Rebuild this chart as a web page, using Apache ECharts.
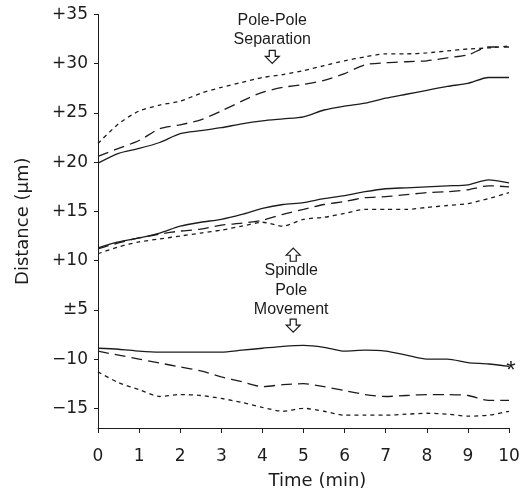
<!DOCTYPE html>
<html>
<head>
<meta charset="utf-8">
<script src="https://cdn.jsdelivr.net/npm/echarts@6/dist/echarts.min.js"></script>
<style>
html,body{margin:0;padding:0;background:#fff;}
#chart{width:525px;height:492px;}
</style>
</head>
<body>
<div id="chart"></div>
<script>
// Time (min)
const times = [0,0.5,1,1.5,2,2.5,3,3.5,4,4.5,5,5.5,6,6.5,7,7.5,8,8.5,9,9.5,10];

// Pole-pole separation (µm)
const sepSolid = [19.9,20.9,21.4,22.0,22.9,23.2,23.5,23.9,24.2,24.4,24.6,25.3,25.7,26.0,26.5,26.9,27.3,27.7,28.0,28.6,28.6];
const sepLong  = [20.6,21.4,22.2,23.4,23.8,24.3,25.2,26.2,27.1,27.6,27.9,28.3,29.0,29.9,30.1,30.2,30.3,30.6,30.9,31.7,31.7];
const sepShort = [21.9,23.9,25.2,25.8,26.2,27.0,27.6,28.1,28.6,28.9,29.3,29.8,30.3,30.7,31.0,31.0,31.1,31.3,31.5,31.6,31.8];

// Spindle pole movement, upper pole (µm)
const upSolid = [11.3,11.9,12.3,12.8,13.5,13.9,14.2,14.7,15.3,15.7,15.9,16.3,16.6,17.0,17.3,17.4,17.5,17.6,17.7,18.2,17.9];
const upLong  = [11.2,11.8,12.3,12.7,13.0,13.2,13.6,13.8,14.1,14.7,15.2,15.7,16.0,16.4,16.5,16.7,16.9,17.0,17.2,17.6,17.5];
const upShort = [10.7,11.4,11.9,12.2,12.5,12.8,13.1,13.5,13.9,13.5,14.2,14.4,14.8,15.2,15.2,15.2,15.4,15.6,15.8,16.3,16.9];

// Spindle pole movement, lower pole (µm)
const lowSolid = [-8.9,-9.0,-9.2,-9.3,-9.3,-9.3,-9.3,-9.1,-8.9,-8.7,-8.6,-8.8,-9.2,-9.1,-9.2,-9.6,-10.0,-10.0,-10.35,-10.5,-10.75];
const lowLong  = [-9.2,-9.6,-10.0,-10.4,-10.8,-11.2,-11.8,-12.3,-12.8,-12.6,-12.5,-12.8,-13.2,-13.6,-13.8,-13.7,-13.6,-13.6,-13.7,-14.2,-14.2];
const lowShort = [-11.3,-12.4,-13.1,-13.8,-13.6,-13.7,-14.0,-14.4,-14.9,-15.3,-15.0,-15.3,-15.7,-15.7,-15.7,-15.6,-15.5,-15.6,-15.8,-15.7,-15.3];

// Broken y axis: ticks and their labels
const yTickValues = [-5,0,5,10,15,20,25,30,35];
const yTickLabels = ['\u221215','\u221210','\u00b15','+10','+15','+20','+25','+30','+35'];
const xTickLabels = ['0','1','2','3','4','5','6','7','8','9','10'];

// axis break: negative distances are shifted up by 10 units
const BREAK_SHIFT = 10;
function toAxis(v){ return v < 0 ? v + BREAK_SHIFT : v; }
function pts(vals){ return times.map((t,i)=>[t, toAxis(vals[i])]); }

const INK = '#1c1c1c';
const SHORT = [4,4];
const LONG = [11,6];
function line(vals, type, extra){
  return Object.assign({
    type:'line', data: pts(vals), symbol:'none', smooth:0.25, silent:true, clip:false,
    lineStyle:{color:INK, width:1.3, type:type}
  }, extra||{});
}

const arrowDown = 'path://M4 0 L10 0 L10 6 L14 6 L7 13 L0 6 L4 6 Z';
const arrowUp = 'path://M4 13 L10 13 L10 7 L14 7 L7 0 L0 7 L4 7 Z';

const annFont = {fontFamily:'Liberation Sans, Arial, sans-serif', fontSize:16, color:INK, lineHeight:19.5};

const chart = echarts.init(document.getElementById('chart'), null, {renderer:'canvas'});
chart.setOption({
  animation:false,
  backgroundColor:'#fff',
  grid:{left:98, right:16, top:14.5, bottom:64, containLabel:false, outerBoundsMode:'none'},
  xAxis:{
    type:'value', min:0, max:10, interval:1,
    name:'Time (min)', nameLocation:'middle', nameGap:44,
    nameTextStyle:{fontFamily:'DejaVu Sans', fontSize:18, color:INK, padding:[0,0,0,28]},
    axisLine:{onZero:false, lineStyle:{color:INK, width:1}},
    axisTick:{length:5, lineStyle:{color:INK}},
    axisLabel:{fontFamily:'DejaVu Sans', fontSize:17, color:INK, margin:20,
      formatter:(v)=>xTickLabels[Math.round(v)]},
    splitLine:{show:false}
  },
  yAxis:{
    type:'value', min:-7, max:35,
    name:'Distance (\u03bcm)', nameLocation:'middle', nameGap:66,
    nameTextStyle:{fontFamily:'DejaVu Sans', fontSize:18, color:INK},
    axisLine:{show:true, onZero:false, lineStyle:{color:INK, width:1}},
    axisTick:{show:true, length:4, customValues:yTickValues, lineStyle:{color:INK}},
    axisLabel:{fontFamily:'DejaVu Sans', fontSize:17, color:INK, margin:10, customValues:yTickValues,
      formatter:(v)=>yTickLabels[yTickValues.indexOf(Math.round(v))]},
    splitLine:{show:false}
  },
  series:[
    line(sepSolid,'solid'),
    line(sepLong,LONG),
    line(sepShort,SHORT),
    line(upSolid,'solid'),
    line(upLong,LONG),
    line(upShort,SHORT),
    line(lowSolid,'solid',{markPoint:{silent:true, data:[
      {coord:[10, toAxis(-10.7)], symbol:'circle', symbolSize:2, itemStyle:{color:'rgba(0,0,0,0)'},
        label:{show:true, position:'inside', align:'center', verticalAlign:'middle', formatter:'*', offset:[2,5],
          fontFamily:'Liberation Sans, Arial, sans-serif', fontSize:24, color:INK}}
    ]}}),
    line(lowLong,LONG),
    line(lowShort,SHORT),
    {type:'line', data:[], symbol:'none', clip:false, markPoint:{silent:true, data:[
      {coord:[4.24, 30.7], symbol:arrowDown, symbolSize:[14,13], itemStyle:{color:'#fff', borderColor:INK, borderWidth:1.2}, label:{show:false}},
      {coord:[4.75, 10.6], symbol:arrowUp, symbolSize:[14,13], itemStyle:{color:'#fff', borderColor:INK, borderWidth:1.2}, label:{show:false}},
      {coord:[4.75, 3.4], symbol:arrowDown, symbolSize:[14,13], itemStyle:{color:'#fff', borderColor:INK, borderWidth:1.2}, label:{show:false}},
      {coord:[4.24, 33.4], symbol:'circle', symbolSize:1, itemStyle:{color:'rgba(0,0,0,0)'},
        label:Object.assign({show:true, position:'inside', align:'center', formatter:'Pole-Pole\nSeparation'}, annFont)},
      {coord:[4.7, 7.0], symbol:'circle', symbolSize:1, itemStyle:{color:'rgba(0,0,0,0)'},
        label:Object.assign({show:true, position:'inside', align:'center', formatter:'Spindle\nPole\nMovement'}, annFont)}
    ]}}
  ]
});
</script>
</body>
</html>
